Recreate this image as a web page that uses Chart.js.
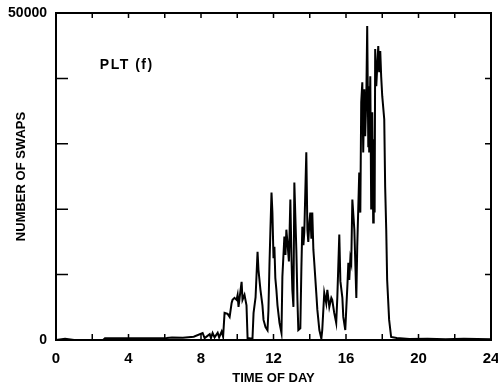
<!DOCTYPE html>
<html>
<head>
<meta charset="utf-8">
<script src="https://cdn.jsdelivr.net/npm/chart.js@4/dist/chart.umd.min.js"></script>
<style>
  html, body { margin: 0; padding: 0; background: #fff; }
  #wrap { width: 498px; height: 389px; }
</style>
</head>
<body>
<div id="wrap"><canvas id="c"></canvas></div>
<script>
// time of day (hours) and number of swaps
const hours = [
  0, 0.5, 1.0, 2.6, 2.7, 6.1, 6.4, 7.0, 7.6, 8.09, 8.2, 8.48, 8.55, 8.64, 8.75, 8.92, 9.0, 9.14, 9.22,
  9.30, 9.47, 9.58, 9.69, 9.74, 9.85, 9.96, 10.02, 10.07, 10.13, 10.24, 10.29, 10.40, 10.51, 10.57,
  10.84, 10.90, 11.01, 11.12, 11.17, 11.28, 11.39, 11.45, 11.56, 11.67, 11.72, 11.78, 11.83, 11.89,
  11.94, 12.0, 12.05, 12.1, 12.16, 12.22, 12.33, 12.44, 12.49, 12.60, 12.66, 12.71, 12.77, 12.85, 12.93,
  12.99, 13.04, 13.10, 13.15, 13.26, 13.32, 13.37, 13.48, 13.54, 13.59, 13.65, 13.70, 13.81, 13.87,
  13.92, 13.98, 14.03, 14.09, 14.14, 14.20, 14.25, 14.36, 14.42, 14.53, 14.64, 14.69, 14.80, 14.91,
  14.97, 15.08, 15.19, 15.24, 15.35, 15.46, 15.52, 15.63, 15.69, 15.80, 15.85, 15.96, 16.02, 16.08,
  16.13, 16.18, 16.24, 16.29, 16.35, 16.46, 16.57, 16.62, 16.73, 16.79, 16.84, 16.90, 16.95, 17.01,
  17.06, 17.12, 17.17, 17.23, 17.25, 17.28, 17.34, 17.39, 17.45, 17.50, 17.53, 17.58, 17.61, 17.67,
  17.78, 17.83, 17.89, 17.94, 18.00, 18.11, 18.16, 18.22, 18.27, 18.38, 18.49, 18.8, 19.5, 20.5,
  21.5, 22.5, 24
]
const swaps = [
  0, 200, 0, 0, 250, 300, 400, 350, 500, 1070, 300, 900, 300, 1070, 400, 1100, 400, 1300, 500,
  4140, 3990, 3530, 5680, 6140, 6440, 6140, 6900, 5060, 6440, 8900, 6140, 6900, 5300, 300,
  200, 4140, 6500, 13500, 10740, 7670, 5300, 3070, 1990, 1500, 4500, 11810, 16870, 22550,
  19480, 12500, 14270, 9500, 7670, 5300, 2610, 1070, 9660, 15800, 13000, 16870, 14880, 12000, 21480,
  12730, 7670, 5060, 24080, 13810, 6140, 1530, 1800, 11200, 17330, 14500, 16500, 28690, 16870,
  15000, 18000, 19480, 15500, 19480, 13810, 11810, 7210, 4600, 1530, 200, 1530, 7210, 5600,
  7670, 5060, 6440, 6140, 4140, 2610, 6440, 16110, 9000, 6440, 3530, 1530, 5060, 8500,
  11810, 9200, 12500, 11810, 21480, 16870, 6440, 14270, 25620, 19480, 36360, 39420, 28690, 38350,
  31140, 36820, 48010, 29610, 38810, 28690, 40340, 19940, 34820, 17950, 30680, 19480, 44490, 38810,
  44950, 40960, 44180, 40340, 37280, 33750, 23470, 16870, 9200, 3070, 460, 300, 150, 200,
  100, 200, 100
]
const xTickLabels = [0, 4, 8, 12, 16, 20, 24]
const yTickLabels = [0, 50000]
const panelLabel = 'PLT (f)'

const FONT = "'Liberation Sans Narrow', 'Liberation Sans', Arial, sans-serif"

const frame = {
  id: 'frame',
  afterDatasetsDraw(chart) {
    const ctx = chart.ctx
    const a = chart.chartArea
    const x = chart.scales.x
    const y = chart.scales.y
    ctx.save()
    ctx.strokeStyle = '#000'
    ctx.lineWidth = 2
    ctx.strokeRect(a.left, a.top, a.right - a.left, a.bottom - a.top)
    ctx.lineWidth = 1.5
    ctx.beginPath()
    x.ticks.forEach(t => {
      if (t.value <= 0 || t.value >= 24) return
      const px = x.getPixelForValue(t.value)
      ctx.moveTo(px, a.top); ctx.lineTo(px, a.top + 5)
      ctx.moveTo(px, a.bottom); ctx.lineTo(px, a.bottom - 6)
    })
    y.ticks.forEach(t => {
      if (t.value <= 0 || t.value >= 50000) return
      const py = y.getPixelForValue(t.value)
      ctx.moveTo(a.left, py); ctx.lineTo(a.left + 12, py)
      ctx.moveTo(a.right, py); ctx.lineTo(a.right - 6, py)
    })
    ctx.stroke()
    ctx.fillStyle = '#000'
    ctx.font = 'bold 14px ' + FONT
    ctx.letterSpacing = '1.5px'
    ctx.textBaseline = 'middle'
    ctx.fillText(panelLabel, x.getPixelForValue(2.42), y.getPixelForValue(42000))
    ctx.restore()
  }
}

new Chart(document.getElementById('c'), {
  type: 'line',
  data: {
    datasets: [{
      data: hours.map((h, i) => ({ x: h, y: swaps[i] })),
      borderColor: '#000',
      borderWidth: 2,
      pointRadius: 0,
      tension: 0,
      fill: false
    }]
  },
  options: {
    responsive: true,
    maintainAspectRatio: false,
    animation: false,
    layout: { padding: { top: 13, right: 7, left: 0, bottom: 0 } },
    plugins: { legend: { display: false }, tooltip: { enabled: false } },
    scales: {
      x: {
        type: 'linear',
        min: 0,
        max: 24,
        grid: { display: false, drawTicks: false },
        border: { display: false },
        ticks: {
          stepSize: 2,
          autoSkip: false,
          maxRotation: 0,
          padding: 10,
          color: '#000',
          font: { family: FONT, size: 15, weight: 'bold' },
          callback: v => xTickLabels.includes(v) ? String(v) : ''
        },
        title: {
          display: true,
          text: 'TIME OF DAY',
          color: '#000',
          font: { family: FONT, size: 13, weight: 'bold' },
          padding: { top: 0, bottom: 3 }
        },
        afterFit: s => { s.height = 49; s.paddingLeft = 0; s.paddingRight = 0 }
      },
      y: {
        min: 0,
        max: 50000,
        grid: { display: false, drawTicks: false },
        border: { display: false },
        ticks: {
          stepSize: 10000,
          autoSkip: false,
          padding: 9,
          color: '#000',
          font: { family: FONT, size: 14, weight: 'bold' },
          callback: v => yTickLabels.includes(v) ? String(v) : ''
        },
        title: {
          display: true,
          text: 'NUMBER OF SWAPS',
          color: '#000',
          font: { family: FONT, size: 13, weight: 'bold' },
          padding: { top: 14, bottom: 0 }
        },
        afterFit: s => { s.width = 56; s.paddingTop = 0 }
      }
    }
  },
  plugins: [frame]
})
</script>
</body>
</html>
